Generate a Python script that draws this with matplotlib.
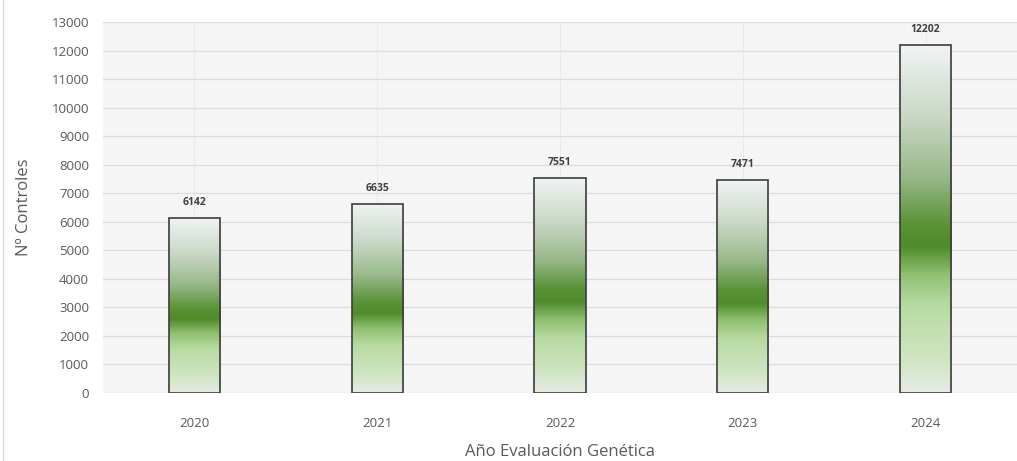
import numpy as np
from matplotlib import pyplot as plt
from matplotlib.colors import LinearSegmentedColormap
from matplotlib.patches import Rectangle

years = ['2020', '2021', '2022', '2023', '2024']
controles = [6142, 6635, 7551, 7471, 12202]
yticks = list(range(0, 13001, 1000))

grad = LinearSegmentedColormap.from_list('verde', [
    (0.00, '#e6ebe4'),
    (0.10, '#cfe5c2'),
    (0.25, '#b8dba2'),
    (0.34, '#8fc070'),
    (0.42, '#4f8b2b'),
    (0.48, '#5a9236'),
    (0.62, '#98b98a'),
    (0.80, '#cbd9c8'),
    (1.00, '#f1f4f4'),
])

plt.rcParams['font.family'] = ['Open Sans', 'DejaVu Sans']

fig = plt.figure(figsize=(10.17, 4.61), dpi=100)
ax = fig.add_axes([103 / 1017, 68 / 461, 914 / 1017, 371 / 461])
ax.set_facecolor('#f5f5f5')

x = np.arange(len(years))
width = 0.28
g = np.linspace(0, 1, 256).reshape(-1, 1)
for xi, v in zip(x, controles):
    ax.imshow(g, cmap=grad, origin='lower', aspect='auto',
              extent=(xi - width / 2, xi + width / 2, 0, v), zorder=3)
    ax.add_patch(Rectangle((xi - width / 2, 0), width, v, fill=False,
                           edgecolor='#3c3c3c', linewidth=1.2, zorder=4))
    ax.text(xi, v + 330, str(v), ha='center', va='bottom', fontsize=7.5,
            fontweight='bold', color='#404040', zorder=5)

ax.set_xlim(-0.5, 4.5)
ax.set_ylim(0, 13000)
ax.set_xticks(x)
ax.set_xticklabels(years)
ax.set_yticks(yticks)
ax.tick_params(axis='both', length=0, labelsize=9.5, colors='#595959')
ax.tick_params(axis='y', pad=10)
ax.tick_params(axis='x', pad=17)
ax.grid(axis='y', color='#dcdcdc', linewidth=0.9, zorder=0)
ax.grid(axis='x', color='#e8e8e8', linewidth=0.6, zorder=0)
ax.set_axisbelow(True)
for s in ax.spines.values():
    s.set_visible(False)

ax.set_ylabel('Nº Controles', fontsize=12, color='#595959', labelpad=14)
ax.set_xlabel('Año Evaluación Genética', fontsize=12, color='#595959', labelpad=10)

fig.add_artist(plt.Line2D([3 / 1017, 3 / 1017], [0, 1], color='#d9d9d9', linewidth=1))

fig.savefig('out.png', dpi=100)
